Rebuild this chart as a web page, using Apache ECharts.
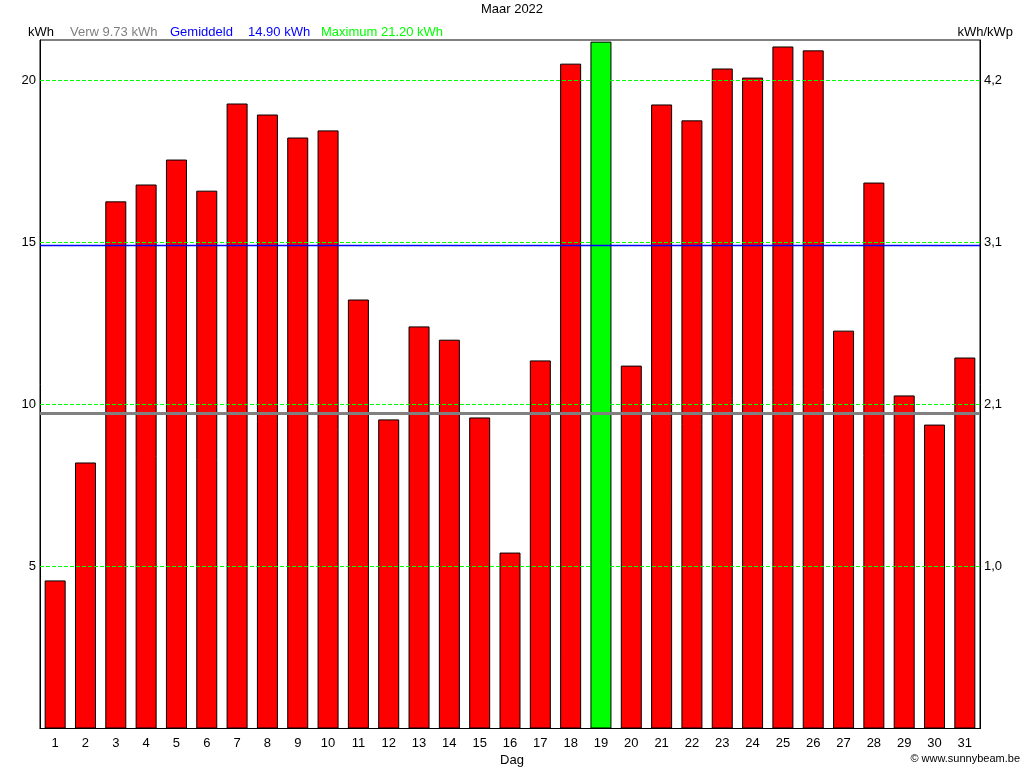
<!DOCTYPE html>
<html><head><meta charset="utf-8">
<script src="https://cdn.jsdelivr.net/npm/echarts@6/dist/echarts.min.js"></script>
<style>html,body{margin:0;padding:0;background:#fff}#c{width:1024px;height:768px}</style>
</head><body><div id="c"></div>
<script>
const days = ['1','2','3','4','5','6','7','8','9','10','11','12','13','14','15','16','17','18','19','20','21','22','23','24','25','26','27','28','29','30','31'];
const energy = [4.57,8.21,16.27,16.79,17.56,16.6,19.29,18.95,18.24,18.46,13.24,9.54,12.41,12.0,9.6,5.43,11.36,20.52,21.2,11.2,19.26,18.77,20.37,20.09,21.05,20.93,12.28,16.85,10.28,9.38,11.45];
const maxDayIndex = 18;
const expected = 9.73;
const average = 14.90;
const axisMax = 21.25;
const leftTicks = [5,10,15,20];
const rightTickLabels = {5:'1,0',10:'2,1',15:'3,1',20:'4,2'};

const font = '"Liberation Sans", Arial, sans-serif';
const chart = echarts.init(document.getElementById('c'), null, {renderer:'canvas'});
const barData = energy.map((v,i)=>({value:v, itemStyle:{color: i===maxDayIndex ? '#00ff00' : '#ff0000'}}));
const yLabel = (fmt)=>({
  fontFamily:font, fontSize:13, color:'#000', margin:4,
  formatter: v => leftTicks.includes(v) ? fmt(v) : ''
});
const gridLineStyle = {color:'#00ff00', width:1, type:[4,2], opacity:1};
chart.setOption({
  animation:false,
  textStyle:{fontFamily:font},
  grid:{left:40, right:44, top:40, bottom:39.5, show:true, borderColor:'#000', borderWidth:1, backgroundColor:'#fff', z:0},
  xAxis:{type:'category', data:days, boundaryGap:true,
    axisLine:{lineStyle:{color:'#000'}}, axisTick:{show:false},
    axisLabel:{color:'#000', fontSize:13, fontFamily:font, margin:8, interval:0},
    splitLine:{show:false}},
  yAxis:[
    {type:'value', min:0, max:axisMax, interval:5, position:'left',
     axisLine:{show:true, lineStyle:{color:'#000'}}, axisTick:{show:false},
     axisLabel:yLabel(v=>String(v)),
     splitLine:{show:false}},
    {type:'value', min:0, max:axisMax, interval:5, position:'right',
     axisLine:{show:true, lineStyle:{color:'#000'}}, axisTick:{show:false},
     axisLabel:yLabel(v=>rightTickLabels[v]),
     splitLine:{show:false}}
  ],
  series:[
  {
    type:'bar', data:barData, barWidth:21, z:2,
    itemStyle:{borderColor:'#000', borderWidth:1},
    markLine:{symbol:'none', silent:true, label:{show:false}, z:5,
      data: leftTicks.map(t=>({yAxis:t, lineStyle:gridLineStyle})).concat([
        {yAxis:average, lineStyle:{color:'#0000ff', width:1.4, type:'solid'}},
        {yAxis:expected, lineStyle:{color:'#808080', width:3, type:'solid'}}
      ])}
  }],
  graphic:[
    {type:'text', left:'center', top:3, style:{text:'Maar 2022', font:'13px '+font, fill:'#000'}},
    {type:'text', left:28, top:26, style:{text:'kWh', font:'13px '+font, fill:'#000'}},
    {type:'text', left:70, top:26, style:{text:'Verw 9.73 kWh', font:'13px '+font, fill:'#808080'}},
    {type:'text', left:170, top:26, style:{text:'Gemiddeld', font:'13px '+font, fill:'#0000ff'}},
    {type:'text', left:248, top:26, style:{text:'14.90 kWh', font:'13px '+font, fill:'#0000ff'}},
    {type:'text', left:321, top:26, style:{text:'Maximum 21.20 kWh', font:'13px '+font, fill:'#00ff00'}},
    {type:'text', right:11, top:26, style:{text:'kWh/kWp', font:'13px '+font, fill:'#000'}},
    {type:'text', left:'center', top:754, style:{text:'Dag', font:'13px '+font, fill:'#000'}},
    {type:'text', right:4, top:753, style:{text:'\u00a9 www.sunnybeam.be', font:'11px '+font, fill:'#000'}}
  ]
});
</script></body></html>
